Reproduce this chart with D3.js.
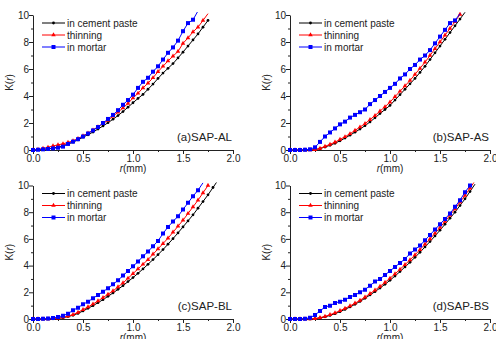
<!DOCTYPE html>
<html><head><meta charset="utf-8">
<script src="https://cdn.jsdelivr.net/npm/d3@7"></script>
<style>
html,body{margin:0;padding:0;background:#fff;}
svg{display:block;font-family:"Liberation Sans",Arial,sans-serif;}
</style></head>
<body>
<svg id="c" width="496" height="339"></svg>
<script>
// r grid (mm), spacing 0.05
const rGrid = [0,0.05,0.10,0.15,0.20,0.25,0.30,0.35,0.40,0.45,0.50,0.55,0.60,0.65,0.70,0.75,0.80,0.85,0.90,0.95,1.00,1.05,1.10,1.15,1.20,1.25,1.30,1.35,1.40,1.45,1.50,1.55,1.60,1.65,1.70,1.75,1.80,1.85];

const seriesNames = ["in cement paste","thinning","in mortar"];
const seriesColors = ["#000000","#ff0000","#0000ff"];
const panelLabels = ["(a)SAP-AL","(b)SAP-AS","(c)SAP-BL","(d)SAP-BS"];
const xTicks = [0,0.5,1.0,1.5,2.0];
const xMinor = [0.25,0.75,1.25,1.75];
const yTicks = [0,2,4,6,8,10];
const yMinor = [1,3,5,7,9];

// (a) SAP-AL
const cementA = [0,0.02,0.05,0.09,0.14,0.22,0.32,0.44,0.58,0.75,0.95,1.13,1.33,1.55,1.78,2.02,2.28,2.55,2.85,3.17,3.5,3.82,4.12,4.5,4.88,5.3,5.7,6.05,6.4,6.82,7.25,7.7,8.15,8.6,9.1,9.6];
const thinA   = [0,0.05,0.12,0.2,0.3,0.38,0.46,0.56,0.68,0.85,1.05,1.25,1.48,1.72,1.95,2.2,2.5,2.8,3.12,3.45,3.85,4.2,4.6,4.95,5.35,5.8,6.2,6.6,6.95,7.3,7.9,8.3,8.75,9.1,9.6,10.1];
const mortarA = [0,0.02,0.05,0.08,0.12,0.17,0.25,0.45,0.62,0.8,1.0,1.22,1.45,1.7,2.0,2.3,2.6,2.95,3.35,3.7,4.1,4.6,5.05,5.35,5.8,6.2,6.7,7.2,7.6,8.1,8.8,9.4,9.65,10.3];
// (b) SAP-AS
const cementB = [0,0,0,0,0.01,0.03,0.1,0.22,0.35,0.5,0.68,0.88,1.1,1.32,1.55,1.8,2.08,2.38,2.7,3.0,3.3,3.7,4.1,4.5,4.9,5.3,5.75,6.2,6.7,7.2,7.7,8.2,8.7,9.2,9.7,10.2];
const thinB   = [0,0,0,0,0,0.02,0.12,0.27,0.42,0.58,0.78,0.98,1.2,1.45,1.7,1.95,2.25,2.55,2.88,3.2,3.55,3.95,4.35,4.75,5.15,5.6,6.05,6.5,7.0,7.5,8.0,8.5,9.0,9.5,10.05];
const mortarB = [0,0,0,0.02,0.05,0.2,0.6,1.0,1.3,1.6,1.9,2.1,2.4,2.6,2.8,3.0,3.4,3.7,4.0,4.3,4.6,4.9,5.3,5.6,6.0,6.3,6.7,7.0,7.4,7.9,8.4,8.9,9.4,9.6,10.1];
// (c) SAP-BL
const cementC = [0,0,0,0,0.01,0.04,0.1,0.18,0.28,0.42,0.6,0.8,1.0,1.22,1.45,1.7,1.95,2.22,2.5,2.8,3.1,3.42,3.75,4.1,4.45,4.82,5.2,5.6,6.02,6.45,6.9,7.35,7.8,8.3,8.8,9.3,9.85,10.4];
const thinC   = [0,0,0,0,0.02,0.06,0.13,0.22,0.33,0.5,0.7,0.9,1.12,1.35,1.6,1.85,2.1,2.4,2.7,3.05,3.4,3.75,4.1,4.45,4.85,5.25,5.65,6.05,6.5,6.95,7.4,7.9,8.4,8.9,9.45,10.0];
const mortarC = [0,0,0.01,0.03,0.08,0.15,0.25,0.4,0.65,0.85,1.1,1.3,1.55,1.8,2.05,2.3,2.6,2.9,3.25,3.6,3.95,4.3,4.7,5.05,5.45,5.85,6.4,6.9,7.3,7.7,8.2,8.7,9.2,9.65,10.2];
// (d) SAP-BS
const cementD = [0,0,0,0,0,0.02,0.08,0.16,0.27,0.4,0.55,0.72,0.9,1.1,1.32,1.55,1.8,2.05,2.32,2.6,2.9,3.22,3.55,3.9,4.25,4.62,5.0,5.4,5.8,6.22,6.65,7.1,7.55,8.0,8.5,9.0,9.55,10.1];
const thinD   = [0,0,0,0,0,0.03,0.1,0.2,0.32,0.46,0.62,0.8,0.98,1.18,1.4,1.64,1.9,2.16,2.44,2.74,3.05,3.38,3.72,4.07,4.43,4.8,5.2,5.6,6.0,6.42,6.85,7.3,7.77,8.25,8.75,9.25,9.8,10.35];
const mortarD = [0,0,0,0.02,0.1,0.3,0.6,0.9,1.0,1.2,1.3,1.45,1.65,1.8,2.0,2.2,2.5,2.8,3.0,3.3,3.6,3.9,4.2,4.5,4.9,5.2,5.5,5.9,6.3,6.7,7.1,7.5,7.9,8.4,8.9,9.5,10.0];

const panelData = [[cementA,thinA,mortarA],[cementB,thinB,mortarB],[cementC,thinC,mortarC],[cementD,thinD,mortarD]];

const layout = [
  {x0:33, x1:233, y0:150, y1:15},
  {x0:290, x1:490, y0:150, y1:15},
  {x0:33, x1:233, y0:319, y1:185.5},
  {x0:290, x1:490, y0:319, y1:185.5}
];

const svg = d3.select("#c");
const defs = svg.append("defs");

layout.forEach((L, pi) => {
  const x = d3.scaleLinear().domain([0,2]).range([L.x0, L.x1]);
  const y = d3.scaleLinear().domain([0,10]).range([L.y0, L.y1]);
  const g = svg.append("g");

  defs.append("clipPath").attr("id","clip"+pi)
    .append("rect").attr("x", L.x0-4).attr("y", L.y1-3)
    .attr("width", L.x1-L.x0+8).attr("height", L.y0-L.y1+7);

  // axes
  const xAx = g.append("g").attr("transform",`translate(0,${L.y0})`)
    .call(d3.axisBottom(x).tickValues(xTicks).tickSize(4).tickSizeOuter(0).tickFormat(d3.format(".1f")));
  g.append("g").attr("transform",`translate(0,${L.y0})`)
    .call(d3.axisBottom(x).tickValues(xMinor).tickSize(2).tickSizeOuter(0).tickFormat(""))
    .select(".domain").remove();
  const yAx = g.append("g").attr("transform",`translate(${L.x0},0)`)
    .call(d3.axisLeft(y).tickValues(yTicks).tickSize(4).tickSizeOuter(0).tickFormat(d3.format("d")));
  g.append("g").attr("transform",`translate(${L.x0},0)`)
    .call(d3.axisLeft(y).tickValues(yMinor).tickSize(2).tickSizeOuter(0).tickFormat(""))
    .select(".domain").remove();
  g.selectAll(".tick text").attr("font-size",10).attr("fill","#222").attr("font-family","Liberation Sans, Arial, sans-serif");
  xAx.selectAll(".tick text").attr("dy","0.72em").attr("y",5);
  yAx.selectAll(".tick text").attr("x",-4);
  g.selectAll(".domain, .tick line").attr("stroke","#222").attr("stroke-width",1);

  // axis titles
  const yt = g.append("text")
    .attr("transform",`translate(${L.x0-20},${(L.y0+L.y1)/2}) rotate(-90)`)
    .attr("text-anchor","middle").attr("font-size",10).attr("fill","#222");
  yt.append("tspan").text("K(");
  yt.append("tspan").attr("font-style","italic").text("r");
  yt.append("tspan").text(")");
  const xt = g.append("text")
    .attr("x",(L.x0+L.x1)/2).attr("y",L.y0+22)
    .attr("text-anchor","middle").attr("font-size",10).attr("fill","#222");
  xt.append("tspan").attr("font-style","italic").text("r");
  xt.append("tspan").text("(mm)");

  // series
  const plot = g.append("g").attr("clip-path",`url(#clip${pi})`);
  panelData[pi].forEach((vals, si) => {
    const pts = vals.map((v,i) => [rGrid[i], v]);
    const col = seriesColors[si];
    plot.append("path").datum(pts)
      .attr("fill","none").attr("stroke",col).attr("stroke-width",1)
      .attr("d", d3.line().x(d=>x(d[0])).y(d=>y(d[1])));
    const sym = si===0 ? d3.symbolCircle : si===1 ? d3.symbolTriangle : d3.symbolSquare;
    const size = si===0 ? 6 : si===1 ? 9 : 16;
    plot.selectAll(null).data(pts.filter(d=>d[1]<=10.05)).enter().append("path")
      .attr("transform",d=>`translate(${x(d[0])},${y(d[1])})`)
      .attr("d", d3.symbol().type(sym).size(size)())
      .attr("fill",col);
  });

  // legend
  seriesNames.forEach((name, si) => {
    const ly = L.y1 + 8 + si*12;
    const lx = L.x0 + 9;
    g.append("line").attr("x1",lx).attr("x2",lx+23).attr("y1",ly).attr("y2",ly)
      .attr("stroke",seriesColors[si]).attr("stroke-width",1);
    const sym = si===0 ? d3.symbolCircle : si===1 ? d3.symbolTriangle : d3.symbolSquare;
    const size = si===0 ? 6 : si===1 ? 9 : 16;
    g.append("path").attr("transform",`translate(${lx+11.5},${ly})`)
      .attr("d", d3.symbol().type(sym).size(size)()).attr("fill",seriesColors[si]);
    g.append("text").attr("x",lx+25).attr("y",ly+3.5).attr("font-size",10)
      .attr("fill","#222").text(name);
  });

  // panel label
  g.append("text").attr("x",L.x1-1).attr("y",L.y0-9).attr("text-anchor","end")
    .attr("font-size",11.5).attr("fill","#222").text(panelLabels[pi]);
});
</script>
</body></html>
